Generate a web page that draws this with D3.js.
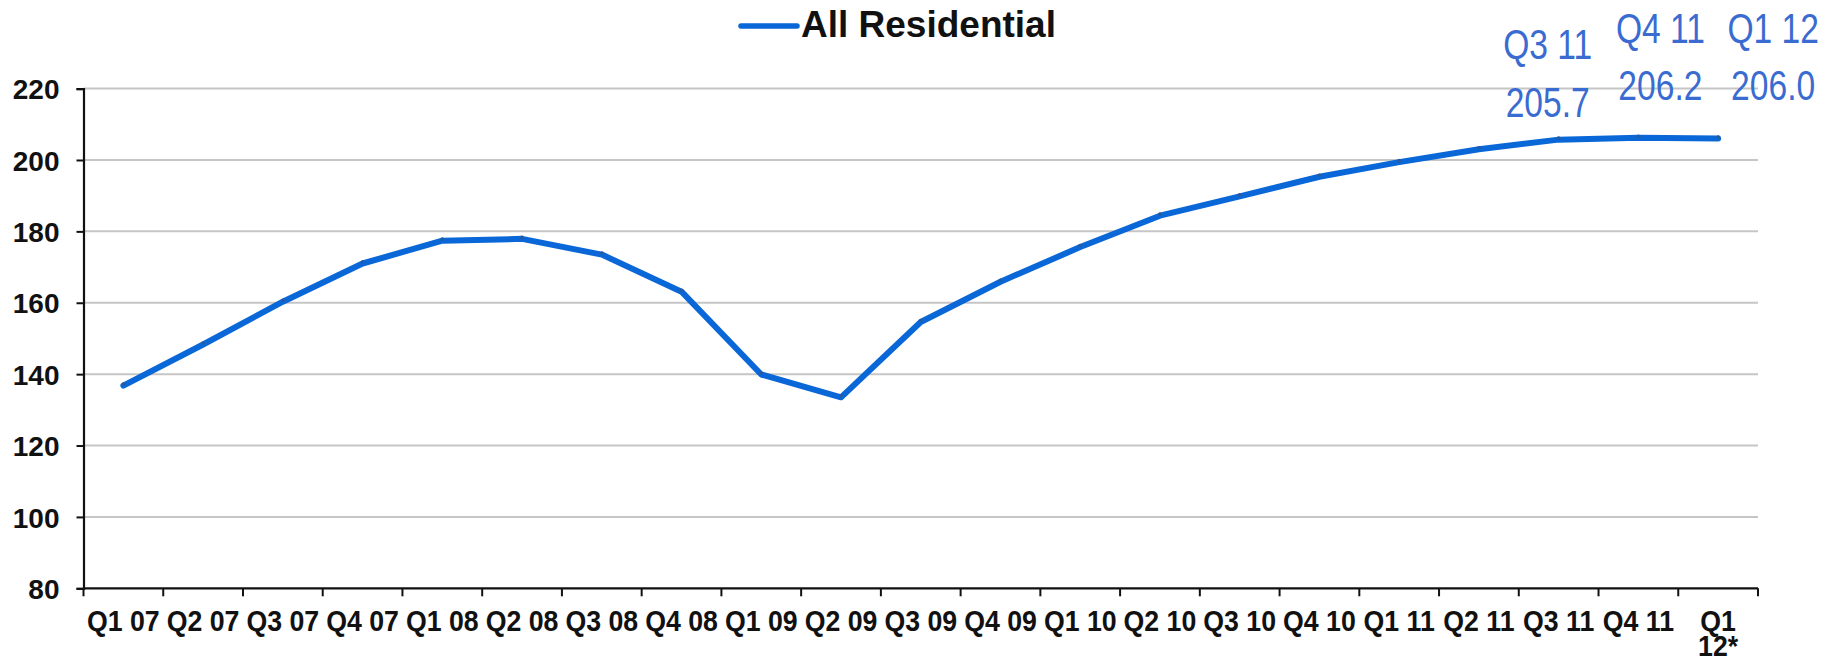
<!DOCTYPE html>
<html>
<head>
<meta charset="utf-8">
<script src="https://cdn.jsdelivr.net/npm/d3@7"></script>
<style>
  html, body { margin: 0; padding: 0; background: #fff; }
  svg { display: block; }
</style>
</head>
<body>
<svg id="chart" width="1828" height="665"></svg>
<script>
// Quarterly index, All Residential
const quarters = [
  "Q1 07", "Q2 07", "Q3 07", "Q4 07",
  "Q1 08", "Q2 08", "Q3 08", "Q4 08",
  "Q1 09", "Q2 09", "Q3 09", "Q4 09",
  "Q1 10", "Q2 10", "Q3 10", "Q4 10",
  "Q1 11", "Q2 11", "Q3 11", "Q4 11",
  "Q1 12"
];
const tickLabels = [
  "Q1 07", "Q2 07", "Q3 07", "Q4 07",
  "Q1 08", "Q2 08", "Q3 08", "Q4 08",
  "Q1 09", "Q2 09", "Q3 09", "Q4 09",
  "Q1 10", "Q2 10", "Q3 10", "Q4 10",
  "Q1 11", "Q2 11", "Q3 11", "Q4 11",
  "Q1\n12*"
];
const allResidential = [
  136.8, 148.3, 160.3, 171.0,
  177.4, 177.9, 173.5, 163.1,
  139.9, 133.5, 154.6, 165.9,
  175.6, 184.4, 189.8, 195.3,
  199.4, 203.0, 205.7, 206.2,
  206.0
];
const yTicks = [80, 100, 120, 140, 160, 180, 200, 220];
const seriesName = "All Residential";
// Quarters whose values are called out above the line
const calloutQuarters = ["Q3 11", "Q4 11", "Q1 12"];

// Layout
const plot = { left: 83.5, right: 1758, top: 88.6, bottom: 588.3 };
const calloutOffsets = { "Q3 11": [-11, -81, -23], "Q4 11": [22, -95, -38], "Q1 12": [55, -96, -39] };
const lineColor = "#0a67d7";
const calloutColor = "#3a6bd1";
const boldFont = "'Liberation Sans', Arial, sans-serif";

const svg = d3.select("#chart");

const x = d3.scaleBand().domain(quarters).range([plot.left, plot.right]).padding(0);
const y = d3.scaleLinear().domain([80, 220]).range([plot.bottom, plot.top]);
const cx = q => x(q) + x.bandwidth() / 2;

// Horizontal gridlines
svg.append("g")
  .selectAll("line")
  .data(yTicks.filter(v => v > 80))
  .join("line")
  .attr("x1", plot.left).attr("x2", plot.right)
  .attr("y1", d => y(d)).attr("y2", d => y(d))
  .attr("stroke", "#c6c6c6").attr("stroke-width", 2);

// Y axis
const yAxis = svg.append("g")
  .attr("transform", `translate(${plot.left},0)`)
  .call(d3.axisLeft(y).tickValues(yTicks).tickSize(7).tickPadding(17).tickFormat(d3.format("d")));
yAxis.select(".domain").attr("stroke", "#111").attr("stroke-width", 2.2);
yAxis.selectAll(".tick line").attr("stroke", "#111").attr("stroke-width", 2);
yAxis.selectAll(".tick text")
  .attr("font-family", boldFont)
  .attr("font-weight", "bold").attr("font-size", 28).attr("fill", "#111")
  .attr("dy", "0.36em");

// X axis line with boundary ticks
const xAxis = svg.append("g").attr("transform", `translate(0,${plot.bottom})`);
xAxis.append("line")
  .attr("x1", plot.left).attr("x2", plot.right)
  .attr("stroke", "#111").attr("stroke-width", 2.2);
xAxis.selectAll("line.tk")
  .data(quarters.map(q => x(q)).concat([x.range()[1]]))
  .join("line").attr("class", "tk")
  .attr("x1", d => d).attr("x2", d => d)
  .attr("y1", 0).attr("y2", 8)
  .attr("stroke", "#111").attr("stroke-width", 2);
xAxis.selectAll("text")
  .data(quarters)
  .join("text")
  .attr("transform", d => `translate(${cx(d)},43) scale(0.89,1)`)
  .attr("text-anchor", "middle")
  .attr("font-family", boldFont)
  .attr("font-weight", "bold").attr("font-size", 30).attr("fill", "#111")
  .each(function (d, i) {
    const lines = tickLabels[i].split("\n");
    d3.select(this).selectAll("tspan")
      .data(lines).join("tspan")
      .attr("x", 0)
      .attr("dy", (l, j) => j === 0 ? 0 : 25)
      .text(l => l);
  });

// Series line
const line = d3.line()
  .x((d, i) => cx(quarters[i]))
  .y(d => y(d));
svg.append("path")
  .datum(allResidential)
  .attr("d", line)
  .attr("fill", "none")
  .attr("stroke", lineColor)
  .attr("stroke-width", 6)
  .attr("stroke-linejoin", "round")
  .attr("stroke-linecap", "round");

// Small point markers
svg.append("g")
  .selectAll("circle")
  .data(allResidential)
  .join("circle")
  .attr("cx", (d, i) => cx(quarters[i]))
  .attr("cy", d => y(d) - 1.5)
  .attr("r", 1.8)
  .attr("fill", "#2a5a9e");

// Value callouts (condensed)
const callouts = svg.append("g")
  .attr("font-family", "'Liberation Sans', Arial, sans-serif")
  .attr("font-size", 42)
  .attr("fill", calloutColor)
  .attr("text-anchor", "middle");
calloutQuarters.forEach(q => {
  const i = quarters.indexOf(q);
  const v = allResidential[i];
  const [dx, dy1, dy2] = calloutOffsets[q];
  callouts.append("text")
    .attr("transform", `translate(${cx(q) + dx},${y(v) + dy1}) scale(0.8,1)`)
    .text(q);
  callouts.append("text")
    .attr("transform", `translate(${cx(q) + dx},${y(v) + dy2}) scale(0.8,1)`)
    .text(v.toFixed(1));
});

// Legend
const legend = svg.append("g");
legend.append("line")
  .attr("x1", 741).attr("x2", 797).attr("y1", 26).attr("y2", 26)
  .attr("stroke", lineColor).attr("stroke-width", 5.5).attr("stroke-linecap", "round");
legend.append("text")
  .attr("x", 801).attr("y", 37)
  .attr("font-family", boldFont)
  .attr("font-weight", "bold").attr("font-size", 37).attr("fill", "#111")
  .text(seriesName);
</script>
</body>
</html>
